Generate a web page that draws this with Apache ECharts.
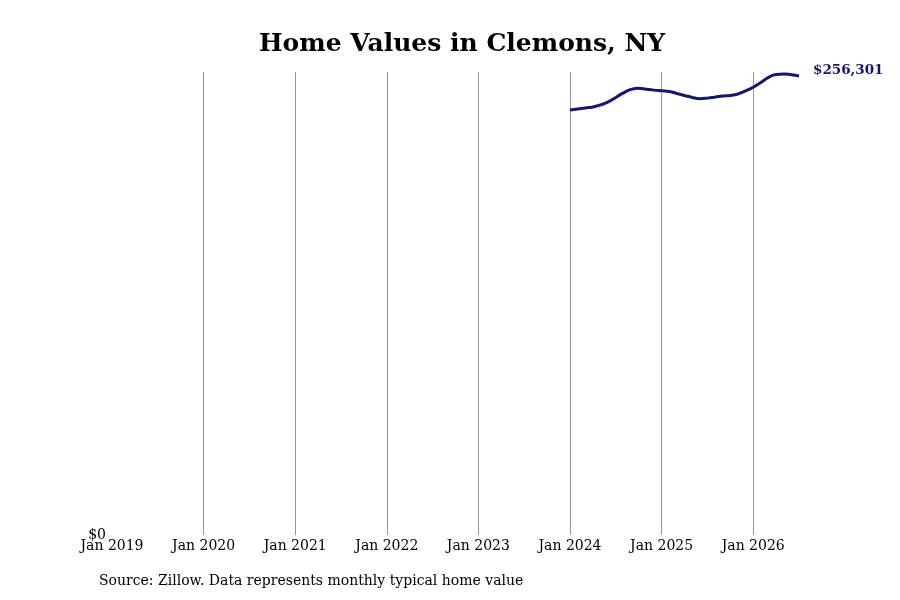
<!DOCTYPE html>
<html lang="en">
<head>
    <meta charset="UTF-8">
    <title>Home Values in Clemons, NY</title>
    <script src="https://cdn.jsdelivr.net/npm/echarts@6/dist/echarts.min.js"></script>
    <style>
        html, body { margin: 0; padding: 0; background: #fff; }
        #chart { width: 900px; height: 600px; }
    </style>
</head>
<body>
<div id="chart"></div>

<script>
    // months shown on the axis: Jan 2019 .. Jul 2026
    var monthNames = ['Jan','Feb','Mar','Apr','May','Jun','Jul','Aug','Sep','Oct','Nov','Dec'];
    var months = [];
    for (var y = 2019; y <= 2026; y++) {
        for (var m = 0; m < 12; m++) {
            if (y === 2026 && m > 6) break;
            months.push(monthNames[m] + ' ' + y);
        }
    }

    // typical home value, Jan 2024 .. Jul 2026
    var firstMonth = 'Jan 2024';
    var homeValues = [
        237320, 237880, 238440, 239000, 240110, 241790, 244300, 246810, 248770, 249440, 248880, 248380,
        248040, 247650, 246530, 245420, 244300, 243630, 243910, 244470, 245140, 245420, 246250, 247930,
        250000, 252680, 255470, 257140, 257420, 256970, 256301
    ];

    var yMax = 258500;

    // pad the series so it starts at the right month
    var startIdx = months.indexOf(firstMonth);
    var seriesData = months.map(function (d, i) {
        var k = i - startIdx;
        return (k >= 0 && k < homeValues.length) ? homeValues[k] : null;
    });

    var fontFam = 'DejaVu Serif';
    var myChart = echarts.init(document.getElementById('chart'));

    var option = {
        backgroundColor: '#fff',
        animation: false,
        title: {
            text: 'Home Values in Clemons, NY',
            left: 254,
            top: 27,
            textStyle: { fontFamily: fontFam, fontSize: 25, fontWeight: 'bold', color: '#000' }
        },
        grid: { left: 112, right: 101, top: 72, bottom: 65 },
        xAxis: {
            type: 'category',
            data: months,
            boundaryGap: false,
            axisLine: { show: false },
            axisTick: { show: false },
            axisLabel: {
                interval: 11,
                margin: 4,
                fontFamily: fontFam,
                fontSize: 14,
                color: '#000'
            },
            splitLine: {
                show: true,
                interval: function (i) { return i > 0 && i % 12 === 0; },
                lineStyle: { color: '#999', width: 1 }
            }
        },
        yAxis: {
            type: 'value',
            min: 0,
            max: yMax,
            interval: yMax,
            axisLine: { show: false },
            axisTick: { show: false },
            splitLine: { show: false },
            axisLabel: {
                margin: 6,
                fontFamily: fontFam,
                fontSize: 14,
                color: '#000',
                formatter: function (v) { return v === 0 ? '$0' : ''; }
            }
        },
        series: [
            {
                name: 'Home value',
                type: 'line',
                data: seriesData,
                smooth: true,
                showSymbol: false,
                lineStyle: { color: '#16166b', width: 3 },
                endLabel: {
                    show: true,
                    distance: 14,
                    offset: [0, -5],
                    fontFamily: fontFam,
                    fontSize: 13.5,
                    fontWeight: 'bold',
                    color: '#16166b',
                    formatter: function (p) {
                        return '$' + p.value.toLocaleString('en-US');
                    }
                }
            }
        ],
        graphic: [
            {
                type: 'text',
                left: 99,
                top: 574,
                style: {
                    text: 'Source: Zillow. Data represents monthly typical home value',
                    font: '14px "DejaVu Serif"',
                    fill: '#000'
                }
            }
        ]
    };

    option && myChart.setOption(option);
</script>
</body>
</html>
